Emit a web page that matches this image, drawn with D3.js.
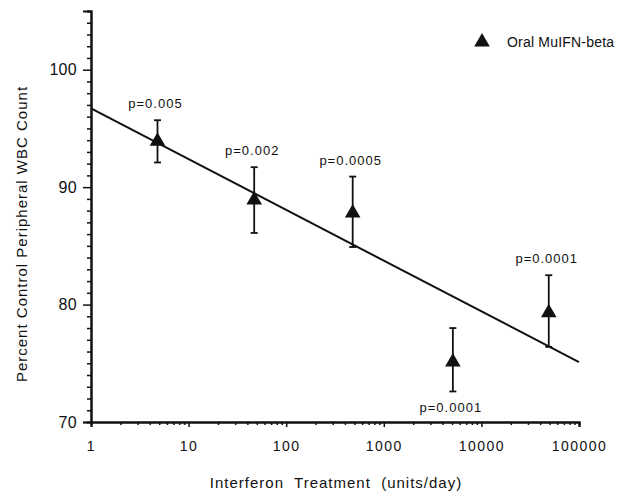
<!DOCTYPE html>
<html lang="en">
<head>
	<meta charset="UTF-8">
	<title>WBC vs interferon</title>
	<style>
		body { margin: 0; background: #fff; }
		text { font-family: "Liberation Sans", Arial, sans-serif; fill: #111; }
	</style>
</head>
<body>
	<script src="https://d3js.org/d3.v7.min.js"></script>
	<script type="text/javascript">
		// data
		var doses = [4.8, 47, 480, 5100, 49000];
		var means = [93.9, 88.9, 87.8, 75.1, 79.3];
		var upper = [95.7, 91.7, 90.9, 78.0, 82.5];
		var lower = [92.1, 86.1, 84.9, 72.6, 76.4];
		var pLabels = ["p=0.005", "p=0.002", "p=0.0005", "p=0.0001", "p=0.0001"];
		var pBelow = [false, false, false, true, false];
		var fitX = [1, 100000];
		var fitY = [96.7, 75.1];
		var yTicks = [70, 80, 90, 100];
		var xTicks = [1, 10, 100, 1000, 10000, 100000];
		var xTickLabels = ["1", "10", "100", "1000", "10000", "100000"];
		var legendLabel = "Oral MuIFN-beta";
		var xTitle = "Interferon  Treatment  (units/day)";
		var yTitle = "Percent Control Peripheral WBC Count";

		var svg = d3.select("body").append("svg").attr("width", 631).attr("height", 498);

		var x = d3.scaleLog().domain([1, 100000]).range([91, 579]);
		var y = d3.scaleLinear().domain([70, 105]).range([422, 11]);

		// y axis, minor ticks every unit
		var yMinor = d3.range(70, 106, 1).filter(function(v){ return yTicks.indexOf(v) < 0; });
		var yAxisMajor = d3.axisLeft(y).tickValues(yTicks).tickSize(8).tickPadding(6);
		var yAxisMinor = d3.axisLeft(y).tickValues(yMinor).tickSize(4).tickFormat("");
		svg.append("g").attr("transform", "translate(91,0)").call(yAxisMinor);
		var gy = svg.append("g").attr("transform", "translate(91,0)").call(yAxisMajor);
		gy.selectAll("text").style("font-size", "16px").attr("letter-spacing", "0.3px");

		// x axis, log minors
		var xMinor = [];
		xTicks.slice(0, -1).forEach(function(d){
			for (var k = 2; k < 10; k++) xMinor.push(d * k);
		});
		var xAxisMajor = d3.axisBottom(x).tickValues(xTicks).tickSize(5).tickPadding(14)
			.tickFormat(function(d, i){ return xTickLabels[i]; });
		var xAxisMinor = d3.axisBottom(x).tickValues(xMinor).tickSize(3).tickFormat("");
		svg.append("g").attr("transform", "translate(0,422)").call(xAxisMinor);
		var gx = svg.append("g").attr("transform", "translate(0,422)").call(xAxisMajor);
		gx.selectAll("text").style("font-size", "14px").attr("letter-spacing", "1.5px");

		svg.selectAll(".domain").attr("stroke", "#111").attr("stroke-width", 2);
		svg.selectAll(".tick line").attr("stroke", "#111").attr("stroke-width", 1.5);

		// regression line
		var line = d3.line()
			.x(function(d){ return x(d[0]); })
			.y(function(d){ return y(d[1]); });
		svg.append("path")
			.datum(d3.zip(fitX, fitY))
			.attr("d", line)
			.attr("fill", "none")
			.attr("stroke", "#111")
			.attr("stroke-width", 2);

		var pts = doses.map(function(d, i){
			return {x: d, m: means[i], hi: upper[i], lo: lower[i], p: pLabels[i], below: pBelow[i]};
		});

		// error bars
		var eb = svg.selectAll(".err").data(pts).enter().append("g").attr("class", "err")
			.attr("stroke", "#111").attr("stroke-width", 1.8);
		eb.append("line")
			.attr("x1", function(d){ return x(d.x); }).attr("x2", function(d){ return x(d.x); })
			.attr("y1", function(d){ return y(d.hi); }).attr("y2", function(d){ return y(d.lo); });
		eb.append("line")
			.attr("x1", function(d){ return x(d.x) - 3.5; }).attr("x2", function(d){ return x(d.x) + 3.5; })
			.attr("y1", function(d){ return y(d.hi); }).attr("y2", function(d){ return y(d.hi); });
		eb.append("line")
			.attr("x1", function(d){ return x(d.x) - 3.5; }).attr("x2", function(d){ return x(d.x) + 3.5; })
			.attr("y1", function(d){ return y(d.lo); }).attr("y2", function(d){ return y(d.lo); });

		// triangles
		var tri = d3.symbol().type(d3.symbolTriangle).size(105);
		svg.selectAll(".pt").data(pts).enter().append("path").attr("class", "pt")
			.attr("d", tri)
			.attr("transform", function(d){ return "translate(" + x(d.x) + "," + y(d.m) + ")"; })
			.attr("fill", "#111");

		// p values
		svg.selectAll(".plab").data(pts).enter().append("text").attr("class", "plab")
			.attr("x", function(d){ return x(d.x) - 2; })
			.attr("y", function(d){ return d.below ? y(d.lo) + 21 : y(d.hi) - 12; })
			.attr("text-anchor", "middle")
			.style("font-size", "13px")
			.attr("letter-spacing", "1px")
			.text(function(d){ return d.p; });

		// legend
		svg.append("path").attr("d", tri).attr("transform", "translate(482,42)").attr("fill", "#111");
		svg.append("text").attr("x", 507).attr("y", 47).style("font-size", "14px").attr("letter-spacing", "0.2px").text(legendLabel);

		// axis titles
		svg.append("text").attr("x", 336).attr("y", 488).attr("text-anchor", "middle")
			.style("font-size", "15px").attr("letter-spacing", "1px")
			.style("white-space", "pre").text(xTitle);
		svg.append("text").attr("transform", "translate(27,234) rotate(-90)").attr("text-anchor", "middle")
			.style("font-size", "15px").attr("letter-spacing", "1px").text(yTitle);
	</script>
</body>
</html>
